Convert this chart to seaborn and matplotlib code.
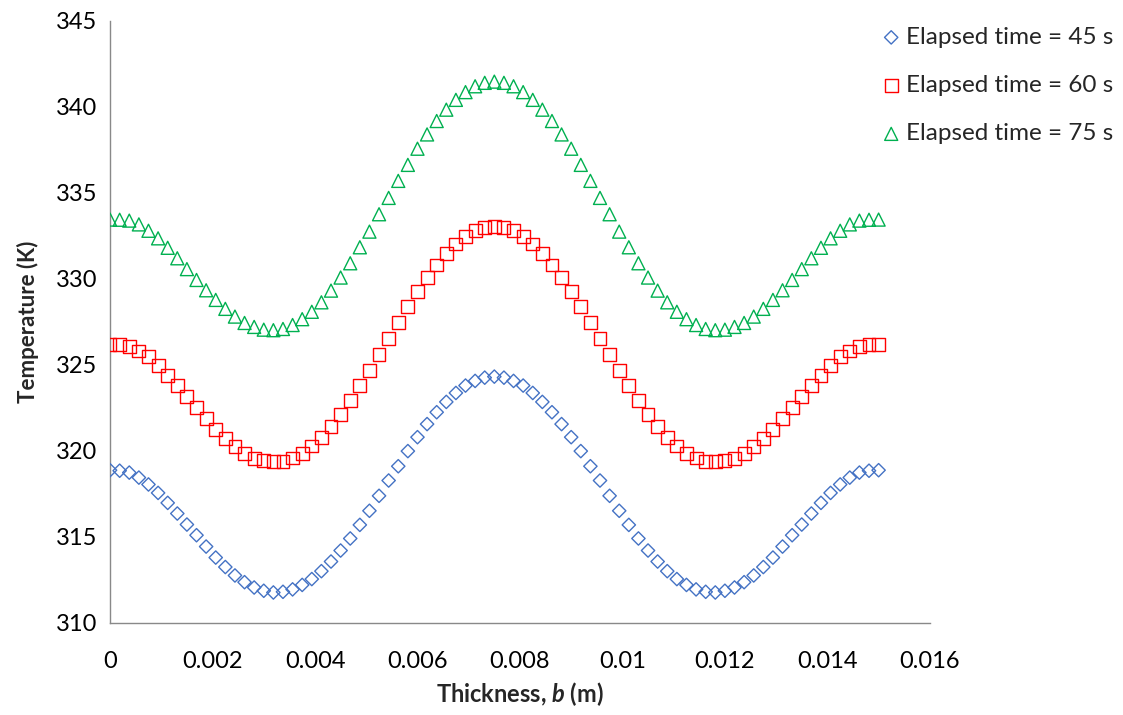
import matplotlib
matplotlib.use('Agg')
import matplotlib.pyplot as plt
import seaborn as sns

# Thickness positions (m)
thickness = [
    0, 0.0001875, 0.000375, 0.0005625, 0.00075, 0.0009375, 0.001125, 0.0013125,
    0.0015, 0.0016875, 0.001875, 0.0020625, 0.00225, 0.0024375, 0.002625, 0.0028125,
    0.003, 0.0031875, 0.003375, 0.0035625, 0.00375, 0.0039375, 0.004125, 0.0043125,
    0.0045, 0.0046875, 0.004875, 0.0050625, 0.00525, 0.0054375, 0.005625, 0.0058125,
    0.006, 0.0061875, 0.006375, 0.0065625, 0.00675, 0.0069375, 0.007125, 0.0073125,
    0.0075, 0.0076875, 0.007875, 0.0080625, 0.00825, 0.0084375, 0.008625, 0.0088125,
    0.009, 0.0091875, 0.009375, 0.0095625, 0.00975, 0.0099375, 0.010125, 0.0103125,
    0.0105, 0.0106875, 0.010875, 0.0110625, 0.01125, 0.0114375, 0.011625, 0.0118125,
    0.012, 0.0121875, 0.012375, 0.0125625, 0.01275, 0.0129375, 0.013125, 0.0133125,
    0.0135, 0.0136875, 0.013875, 0.0140625, 0.01425, 0.0144375, 0.014625, 0.0148125,
    0.015,
]

# Temperature (K) at elapsed time = 45 s
temp_45 = [
    318.87, 318.84, 318.73, 318.44, 318.04, 317.55, 316.97, 316.35, 315.71, 315.09,
    314.43, 313.79, 313.24, 312.75, 312.36, 312.05, 311.86, 311.76, 311.80, 311.94,
    312.20, 312.54, 313.00, 313.56, 314.20, 314.90, 315.69, 316.51, 317.38, 318.27,
    319.10, 319.98, 320.79, 321.55, 322.24, 322.84, 323.36, 323.79, 324.06, 324.25,
    324.31,
    324.25, 324.06, 323.79, 323.36, 322.84, 322.24, 321.55, 320.79, 319.98, 319.10,
    318.27, 317.38, 316.51, 315.69, 314.90, 314.20, 313.56, 313.00, 312.54, 312.20,
    311.94, 311.80, 311.76, 311.86, 312.05, 312.36, 312.75, 313.24, 313.79, 314.43,
    315.09, 315.71, 316.35, 316.97, 317.55, 318.04, 318.44, 318.73, 318.84, 318.87,
]

# Temperature (K) at elapsed time = 60 s
temp_60 = [
    326.19, 326.17, 326.08, 325.80, 325.46, 324.97, 324.37, 323.79, 323.13, 322.49,
    321.87, 321.23, 320.71, 320.27, 319.86, 319.57, 319.43, 319.36, 319.40, 319.58,
    319.86, 320.28, 320.79, 321.41, 322.13, 322.94, 323.77, 324.66, 325.61, 326.54,
    327.47, 328.38, 329.25, 330.05, 330.80, 331.48, 332.02, 332.45, 332.78, 332.97,
    333.03,
    332.97, 332.78, 332.45, 332.02, 331.48, 330.80, 330.05, 329.25, 328.38, 327.47,
    326.54, 325.61, 324.66, 323.77, 322.94, 322.13, 321.41, 320.79, 320.28, 319.86,
    319.58, 319.40, 319.36, 319.43, 319.57, 319.86, 320.27, 320.71, 321.23, 321.87,
    322.49, 323.13, 323.79, 324.37, 324.97, 325.46, 325.80, 326.08, 326.17, 326.19,
]

# Temperature (K) at elapsed time = 75 s
temp_75 = [
    333.44, 333.43, 333.38, 333.16, 332.79, 332.35, 331.80, 331.19, 330.56, 329.93,
    329.33, 328.77, 328.25, 327.80, 327.43, 327.20, 327.04, 327.01, 327.08, 327.31,
    327.65, 328.08, 328.63, 329.31, 330.07, 330.90, 331.83, 332.74, 333.75, 334.70,
    335.69, 336.62, 337.56, 338.39, 339.17, 339.83, 340.40, 340.85, 341.19, 341.39,
    341.46,
    341.39, 341.19, 340.85, 340.40, 339.83, 339.17, 338.39, 337.56, 336.62, 335.69,
    334.70, 333.75, 332.74, 331.83, 330.90, 330.07, 329.31, 328.63, 328.08, 327.65,
    327.31, 327.08, 327.01, 327.04, 327.20, 327.43, 327.80, 328.25, 328.77, 329.33,
    329.93, 330.56, 331.19, 331.80, 332.35, 332.79, 333.16, 333.38, 333.43, 333.44,
]

series_labels = ['Elapsed time = 45 s', 'Elapsed time = 60 s', 'Elapsed time = 75 s']
x_ticks = [0, 0.002, 0.004, 0.006, 0.008, 0.01, 0.012, 0.014, 0.016]
x_tick_labels = ['0', '0.002', '0.004', '0.006', '0.008', '0.01', '0.012', '0.014', '0.016']
y_ticks = [310, 315, 320, 325, 330, 335, 340, 345]

sns.set_theme(style='white')
plt.rcParams['font.family'] = ['Lato', 'DejaVu Sans']
plt.rcParams['mathtext.fontset'] = 'custom'
plt.rcParams['mathtext.it'] = 'Lato:italic:bold'
plt.rcParams['mathtext.rm'] = 'Lato:bold'

fig = plt.figure(figsize=(11.23, 7.15), dpi=100)
ax = fig.add_axes([0.098, 0.129, 0.730, 0.842])

styles = [
    (temp_45, 'D', '#4472C4', 46),
    (temp_60, 's', '#FF0000', 86),
    (temp_75, '^', '#00B050', 88),
]
for (vals, mk, col, size), lab in zip(styles, series_labels):
    sns.scatterplot(x=thickness, y=vals, marker=mk, s=size, color=col,
                    facecolor='none', edgecolor=col, linewidth=1.0,
                    label=lab, ax=ax, zorder=3)

ax.set_xlim(0, 0.016)
ax.set_ylim(310, 345)
ax.set_xticks(x_ticks)
ax.set_xticklabels(x_tick_labels)
ax.set_yticks(y_ticks)
ax.tick_params(axis='both', length=0, labelsize=17, colors='black')
ax.tick_params(axis='x', pad=20)
ax.tick_params(axis='y', pad=9)

for side in ['top', 'right']:
    ax.spines[side].set_visible(False)
for side in ['left', 'bottom']:
    ax.spines[side].set_color('#898989')
    ax.spines[side].set_linewidth(1.0)

ax.set_ylabel('Temperature (K)', fontsize=16, fontweight='bold', labelpad=12)
ax.set_xlabel(r'Thickness, $\mathit{b}$ (m)', fontsize=17, fontweight='bold', labelpad=6)

ax.legend(loc='upper left', bbox_to_anchor=(0.941, 0.990), bbox_transform=ax.transAxes,
          frameon=False, fontsize=17.5, handlelength=0.8, handletextpad=0.2,
          labelspacing=1.12, borderpad=0, borderaxespad=0, markerscale=1.0)

fig.savefig('out.png', dpi=100)
plt.close(fig)
